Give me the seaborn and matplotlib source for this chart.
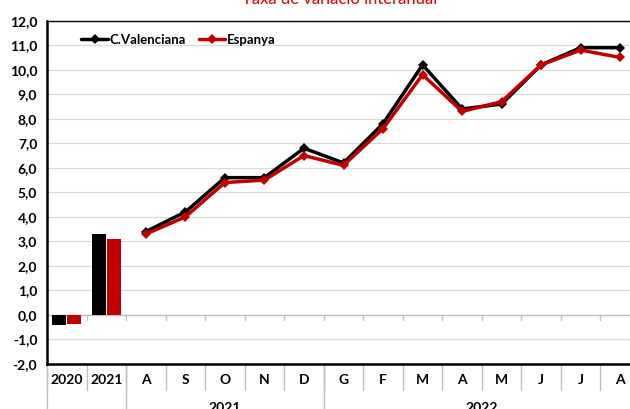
import numpy as np
import pandas as pd
import matplotlib
matplotlib.use("Agg")
import matplotlib.pyplot as plt
import seaborn as sns
from matplotlib.ticker import FuncFormatter, MultipleLocator

# ---- data ----
years = ["2020", "2021"]
cv_year = [-0.4, 3.3]
es_year = [-0.35, 3.1]

months = ["A", "S", "O", "N", "D", "G", "F", "M", "A", "M", "J", "J", "A"]
cv_month = [3.4, 4.2, 5.6, 5.6, 6.8, 6.2, 7.8, 10.2, 8.4, 8.6, 10.2, 10.9, 10.9]
es_month = [3.3, 4.0, 5.4, 5.5, 6.5, 6.1, 7.6, 9.8, 8.3, 8.7, 10.2, 10.8, 10.5]
groups = [("2021", 0, 5), ("2022", 5, 13)]  # (label, first month idx, end idx)

series = ["C.Valenciana", "Espanya"]
colors = {"C.Valenciana": "#000000", "Espanya": "#c00000"}
title = "Taxa de variació interanual"

sns.set_theme(style="white")
fam = ["Lato", "DejaVu Sans"]
plt.rcParams["font.family"] = fam
plt.rcParams["text.color"] = "black"
plt.rcParams["ytick.color"] = "black"

fig = plt.figure(figsize=(6.3, 4.09), dpi=100)
ax = fig.add_axes([47 / 630, 1 - 364 / 409, 593 / 630, (364 - 20.7) / 409])

bars = pd.DataFrame({
    "year": years * 2,
    "value": cv_year + es_year,
    "serie": [series[0]] * 2 + [series[1]] * 2,
})
sns.barplot(data=bars, x="year", y="value", hue="serie", order=years,
            hue_order=series, palette=colors, width=0.75, gap=0.06,
            saturation=1, ax=ax, legend=False, zorder=3, edgecolor="none")

nb = len(years)
xm = np.arange(nb, nb + len(months))
lines = pd.DataFrame({
    "x": np.concatenate([xm, xm]),
    "value": cv_month + es_month,
    "serie": [series[0]] * len(months) + [series[1]] * len(months),
})
sns.lineplot(data=lines, x="x", y="value", hue="serie", hue_order=series,
             palette=colors, marker="D", markersize=5, linewidth=2.5,
             markeredgewidth=0, ax=ax, zorder=4)

ntot = nb + len(months)
ax.set_xlim(-0.5, ntot - 0.5)
ax.set_ylim(-2, 12)
ax.yaxis.set_major_locator(MultipleLocator(1))
ax.yaxis.set_major_formatter(FuncFormatter(lambda v, p: f"{v:.1f}".replace(".", ",")))
ax.grid(axis="y", color="#d9d9d9", linewidth=0.9, zorder=0)
ax.set_axisbelow(True)
ax.axhline(0, color="#bfbfbf", linewidth=1.0, zorder=2)
ax.set_xticks([])
ax.set_xlabel("")
ax.set_ylabel("")
ax.tick_params(axis="y", length=0, pad=7, labelsize=10)
for lab in ax.get_yticklabels():
    lab.set_fontweight("bold")
for s in ax.spines.values():
    s.set_color("#000000")
    s.set_linewidth(1.0)
ax.spines["bottom"].set_linewidth(1.8)
ax.spines["left"].set_linewidth(1.8)

# small ticks on zero line at category boundaries
for b in np.arange(0.5, ntot - 0.5, 1.0):
    ax.plot([b, b], [0, -0.22], color="#bfbfbf", lw=1.0, zorder=2)

# two-level category axis
trans = ax.get_xaxis_transform()
cats = years + months
for i, c in enumerate(cats):
    ax.text(i, -0.047, c, transform=trans, ha="center", va="center",
            fontsize=10, fontweight="bold", clip_on=False)
for b in np.arange(-0.5, ntot, 1.0):
    ax.plot([b, b], [0, -0.076], transform=trans, color="#bfbfbf", lw=1.0, clip_on=False)
for b in [-0.5, nb - 0.5, nb + groups[0][2] - 0.5]:
    ax.plot([b, b], [0, -0.2], transform=trans, color="#bfbfbf", lw=1.0, clip_on=False)
for lab, a, e in groups:
    ax.text(nb + (a + e - 1) / 2, -0.127, lab, transform=trans, ha="center",
            va="center", fontsize=10, fontweight="bold", clip_on=False)

leg = ax.legend(loc="center left", bbox_to_anchor=(0.038, 0.944), ncol=2,
                frameon=False, handlelength=2.0, handletextpad=0.1,
                columnspacing=1.0, prop={"family": fam, "weight": "bold", "size": 9.5})

fig.text(340 / 630, 1 + 1 / 409, title, ha="center", va="center",
         color="#e00000", fontsize=12)

fig.savefig("out.png", dpi=100)
